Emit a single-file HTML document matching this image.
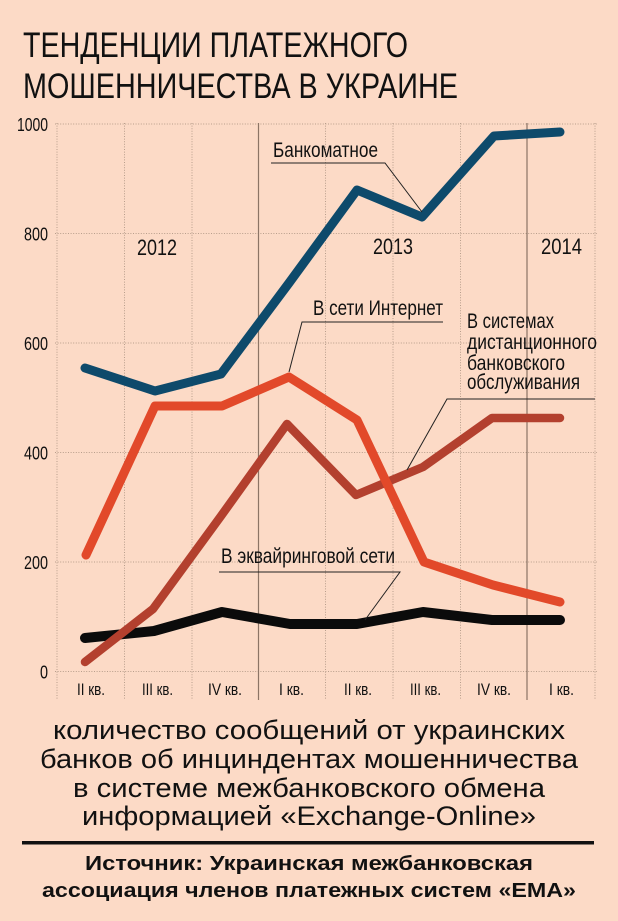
<!DOCTYPE html>
<html><head><meta charset="utf-8"><style>
html,body{margin:0;padding:0;background:#fcdac6;}
svg{display:block;}
text{font-family:"Liberation Sans","Noto Sans CJK SC",sans-serif;fill:#111;}
</style></head><body>
<svg width="618" height="921" viewBox="0 0 618 921" xmlns="http://www.w3.org/2000/svg">
<rect width="618" height="921" fill="#fcdac6"/>
<!-- title -->
<text x="23" y="57" font-size="35" textLength="385" lengthAdjust="spacingAndGlyphs">ТЕНДЕНЦИИ ПЛАТЕЖНОГО</text>
<text x="23" y="98" font-size="35" textLength="435" lengthAdjust="spacingAndGlyphs">МОШЕННИЧЕСТВА В УКРАИНЕ</text>

<!-- grid -->
<g stroke="#b89e8c" stroke-width="1" stroke-dasharray="1 1.6" fill="none">
<line x1="55" y1="124" x2="597" y2="124"/>
<line x1="55" y1="233.5" x2="597" y2="233.5"/>
<line x1="55" y1="343" x2="597" y2="343"/>
<line x1="55" y1="452.5" x2="597" y2="452.5"/>
<line x1="55" y1="562" x2="597" y2="562"/>
<line x1="55" y1="671.5" x2="597" y2="671.5"/>
<line x1="57" y1="123" x2="57" y2="700"/>
<line x1="124.5" y1="123" x2="124.5" y2="700"/>
<line x1="192" y1="123" x2="192" y2="700"/>
<line x1="325.5" y1="123" x2="325.5" y2="700"/>
<line x1="393" y1="123" x2="393" y2="700"/>
<line x1="460.5" y1="123" x2="460.5" y2="700"/>
<line x1="595" y1="123" x2="595" y2="700"/>
</g>
<g stroke="#8c7465" stroke-width="1.2">
<line x1="258.5" y1="123" x2="258.5" y2="700"/>
<line x1="527" y1="123" x2="527" y2="700"/>
</g>

<!-- y labels -->
<g font-size="18">
<text x="17" y="131" textLength="31" lengthAdjust="spacingAndGlyphs">1000</text>
<text x="24" y="240.5" textLength="24" lengthAdjust="spacingAndGlyphs">800</text>
<text x="24" y="350" textLength="24" lengthAdjust="spacingAndGlyphs">600</text>
<text x="24" y="459.5" textLength="24" lengthAdjust="spacingAndGlyphs">400</text>
<text x="24" y="569" textLength="24" lengthAdjust="spacingAndGlyphs">200</text>
<text x="40" y="678.5" textLength="8" lengthAdjust="spacingAndGlyphs">0</text>
</g>

<!-- x labels -->
<g font-size="17">
<text x="77" y="695" textLength="28" lengthAdjust="spacingAndGlyphs">II кв.</text>
<text x="142" y="695" textLength="31" lengthAdjust="spacingAndGlyphs">III кв.</text>
<text x="208" y="695" textLength="34" lengthAdjust="spacingAndGlyphs">IV кв.</text>
<text x="279" y="695" textLength="25" lengthAdjust="spacingAndGlyphs">I кв.</text>
<text x="344" y="695" textLength="28" lengthAdjust="spacingAndGlyphs">II кв.</text>
<text x="410" y="695" textLength="31" lengthAdjust="spacingAndGlyphs">III кв.</text>
<text x="477" y="695" textLength="34" lengthAdjust="spacingAndGlyphs">IV кв.</text>
<text x="549" y="695" textLength="25" lengthAdjust="spacingAndGlyphs">I кв.</text>
</g>

<!-- years -->
<g font-size="22">
<text x="137" y="255" textLength="40" lengthAdjust="spacingAndGlyphs">2012</text>
<text x="373" y="254" textLength="40" lengthAdjust="spacingAndGlyphs">2013</text>
<text x="541" y="254" textLength="41" lengthAdjust="spacingAndGlyphs">2014</text>
</g>

<!-- series -->
<g fill="none" stroke-linecap="round" stroke-linejoin="round">
<polyline stroke="#0b0b0b" stroke-width="10" points="85,638 154,631 222,612 290,624 357,624 423,612 492,620 560,620"/>
<polyline stroke="#b3402e" stroke-width="8.5" points="85,662 153,609 221,516 287,424 356,495 423,467 492,418 560,418"/>
<polyline stroke="#e2492a" stroke-width="9" points="86,555 155,406 222,406 289,377 357,420 424,562 493,585 560,602"/>
<polyline stroke="#0e4a6b" stroke-width="9" points="85,368 155,391 221,374 289,283 357,190 422,217 494,136 560,132"/>
</g>

<!-- leader lines -->
<g stroke="#222" stroke-width="1" fill="none">
<polyline points="271,163 385,163 422,212"/>
<polyline points="443,322 302,322 289,372"/>
<polyline points="595,399 447,399 407,470"/>
<polyline points="219,572 400,572 365,620"/>
</g>

<!-- series labels -->
<g font-size="21">
<text x="273" y="157" textLength="105" lengthAdjust="spacingAndGlyphs">Банкоматное</text>
<text x="313" y="315" textLength="130" lengthAdjust="spacingAndGlyphs">В сети Интернет</text>
<text x="467" y="328" textLength="87" lengthAdjust="spacingAndGlyphs">В системах</text>
<text x="467" y="349" textLength="130" lengthAdjust="spacingAndGlyphs">дистанционного</text>
<text x="467" y="370" textLength="98" lengthAdjust="spacingAndGlyphs">банковского</text>
<text x="467" y="389" textLength="113" lengthAdjust="spacingAndGlyphs">обслуживания</text>
<text x="221" y="563" textLength="174" lengthAdjust="spacingAndGlyphs">В эквайринговой сети</text>
</g>

<!-- description -->
<g font-size="27">
<text x="53" y="739" textLength="512" lengthAdjust="spacingAndGlyphs">количество сообщений от украинских</text>
<text x="40" y="768" textLength="538" lengthAdjust="spacingAndGlyphs">банков об инциндентах мошенничества</text>
<text x="73" y="797" textLength="472" lengthAdjust="spacingAndGlyphs">в системе межбанковского обмена</text>
<text x="82" y="825" textLength="454" lengthAdjust="spacingAndGlyphs">информацией «Exchange-Online»</text>
</g>
<rect x="22" y="841" width="572" height="3.5" fill="#111"/>
<g font-size="20" font-weight="bold">
<text x="85" y="870" textLength="448" lengthAdjust="spacingAndGlyphs">Источник: Украинская межбанковская</text>
<text x="42" y="897" textLength="534" lengthAdjust="spacingAndGlyphs">ассоциация членов платежных систем «ЕМА»</text>
</g>
</svg>
</body></html>
